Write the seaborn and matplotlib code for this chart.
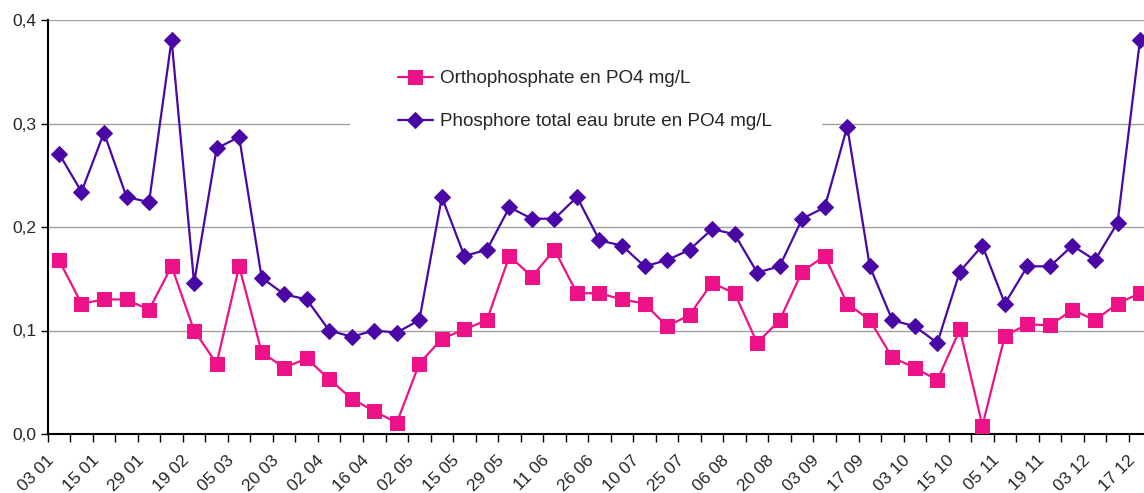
import numpy as np
import pandas as pd
import matplotlib
matplotlib.use("Agg")
import matplotlib.pyplot as plt
import matplotlib.transforms as mtransforms
from matplotlib.ticker import FixedLocator, FuncFormatter
from matplotlib.patches import Rectangle
import seaborn as sns

# ---------------- data ----------------
date_labels = ["03 01", "15 01", "29 01", "19 02", "05 03", "20 03", "02 04", "16 04",
               "02 05", "15 05", "29 05", "11 06", "26 06", "10 07", "25 07", "06 08",
               "20 08", "03 09", "17 09", "03 10", "15 10", "05 11", "19 11", "03 12", "17 12"]

orthophosphate = [0.168, 0.126, 0.130, 0.130, 0.120, 0.162, 0.100, 0.068, 0.162, 0.079,
                  0.064, 0.073, 0.053, 0.034, 0.022, 0.011, 0.068, 0.092, 0.101, 0.110,
                  0.172, 0.152, 0.178, 0.136, 0.136, 0.130, 0.126, 0.104, 0.115, 0.146,
                  0.136, 0.088, 0.110, 0.157, 0.172, 0.126, 0.110, 0.074, 0.064, 0.052,
                  0.101, 0.008, 0.095, 0.106, 0.105, 0.120, 0.110, 0.126, 0.136]

phosphore_total = [0.271, 0.234, 0.291, 0.229, 0.224, 0.381, 0.146, 0.276, 0.287, 0.151,
                   0.135, 0.130, 0.100, 0.094, 0.100, 0.098, 0.110, 0.229, 0.172, 0.178,
                   0.219, 0.208, 0.208, 0.229, 0.187, 0.182, 0.162, 0.168, 0.178, 0.198,
                   0.193, 0.156, 0.162, 0.208, 0.219, 0.297, 0.162, 0.110, 0.104, 0.088,
                   0.157, 0.182, 0.126, 0.162, 0.162, 0.182, 0.168, 0.204, 0.381]

series_names = ["Orthophosphate en PO4 mg/L", "Phosphore total eau brute en PO4 mg/L"]
y_ticks = [0.0, 0.1, 0.2, 0.3, 0.4]

# ---------------- style ----------------
sns.set_style("white")
plt.rcParams["font.family"] = ["Liberation Sans", "DejaVu Sans"]

pink = "#EE1289"
purple = "#4A07A6"

idx = np.arange(len(orthophosphate))
df = pd.DataFrame({"idx": idx, "ortho": orthophosphate, "ptot": phosphore_total})

W, H = 1144, 493
ax_left_px, ax_right_px = 47.7, 1151.3
ax_top_px, ax_bot_px = 20, 434

fig = plt.figure(figsize=(W / 100, H / 100), dpi=100)
ax = fig.add_axes([ax_left_px / W, 1 - ax_bot_px / H,
                   (ax_right_px - ax_left_px) / W, (ax_bot_px - ax_top_px) / H])
ax_w = ax_right_px - ax_left_px
ax_h = ax_bot_px - ax_top_px

sns.lineplot(data=df, x="idx", y="ortho", ax=ax, color=pink, marker="s",
             markersize=9.5, markeredgecolor=pink, linewidth=1.6, label=series_names[0],
             zorder=3)
sns.lineplot(data=df, x="idx", y="ptot", ax=ax, color=purple, marker="D",
             markersize=8.5, markeredgecolor=purple, linewidth=1.6, label=series_names[1],
             zorder=3)

ax.set_xlim(-0.5, len(idx) - 0.5)
ax.set_ylim(0, 0.4)
ax.set_xlabel("")
ax.set_ylabel("")

# y axis
ax.yaxis.set_major_locator(FixedLocator(y_ticks))
ax.yaxis.set_major_formatter(FuncFormatter(lambda v, p: f"{v:.1f}".replace(".", ",")))
ax.grid(axis="y", color="#A0A0A0", linewidth=1.0, zorder=0.5)
ax.set_axisbelow(True)
ax.tick_params(axis="y", which="major", left=True, length=5, width=1, color="black",
               labelsize=12.5, pad=3)

# x axis: tick marks at category boundaries, labels every other category
ax.xaxis.set_major_locator(FixedLocator(np.arange(-0.5, len(idx), 1.0)))
ax.xaxis.set_major_formatter(FuncFormatter(lambda v, p: ""))
ax.xaxis.set_minor_locator(FixedLocator(idx[::2]))
ax.set_xticklabels(date_labels, minor=True)
ax.tick_params(axis="x", which="major", bottom=True, length=6, width=1, color="black")
ax.tick_params(axis="x", which="minor", bottom=False, length=0, labelsize=12.5, pad=13.5)
shift = mtransforms.ScaledTranslation(-13 / 100, 0, fig.dpi_scale_trans)
for tick in ax.xaxis.get_minor_ticks():
    lbl = tick.label1
    lbl.set_rotation(45)
    lbl.set_ha("right")
    lbl.set_rotation_mode("anchor")
    lbl.set_transform(lbl.get_transform() + shift)

for s in ["top", "right"]:
    ax.spines[s].set_visible(False)
for s in ["left", "bottom"]:
    ax.spines[s].set_color("black")
    ax.spines[s].set_linewidth(1.5)

# white legend area hiding the gridline behind it
bx0, bx1, by0, by1 = 350, 822, 45, 150
ax.add_patch(Rectangle(((bx0 - ax_left_px) / ax_w, 1 - (by1 - ax_top_px) / ax_h),
                       (bx1 - bx0) / ax_w, (by1 - by0) / ax_h,
                       transform=ax.transAxes, facecolor="white", edgecolor="none",
                       zorder=1))

leg = ax.legend(loc="upper left",
                bbox_to_anchor=((398 - ax_left_px) / ax_w, 1 - (70 - ax_top_px) / ax_h),
                frameon=False, fontsize=13.6, handlelength=1.85, handletextpad=0.37,
                labelspacing=1.36, borderpad=0, borderaxespad=0)

fig.savefig("out.png", dpi=100)
